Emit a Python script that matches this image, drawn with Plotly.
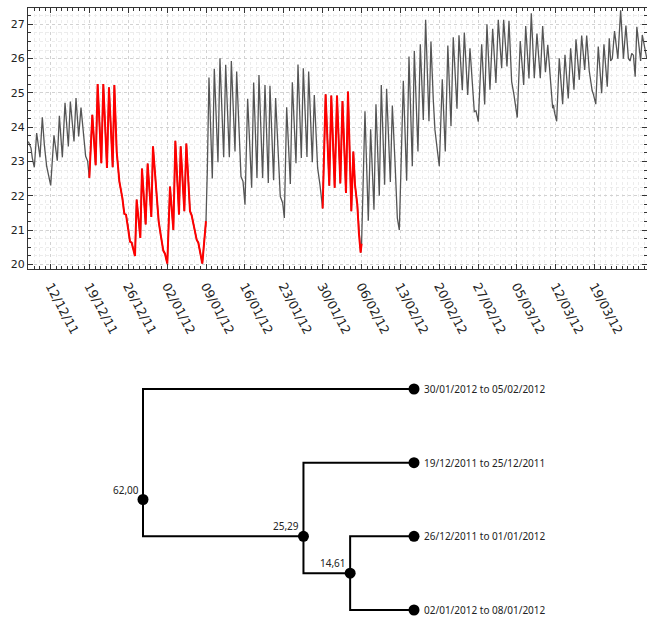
import plotly.graph_objects as go
from datetime import datetime, timedelta

# ---------------- data: temperature series (days after 12/12/2011 00:00, value) -------------
base_date = "2011-12-12"
day_offsets = [
    -4.03, -3.55, -3.31, -2.95, -2.53, -2.23, -1.93, -1.51, -1.15, -0.73, -0.31, 0.0,
    0.59, 1.19, 1.56, 2.10, 2.58, 3.18, 3.54, 4.20, 4.56, 5.04, 5.46, 5.88, 6.30, 6.66, 6.96,
    7.50, 8.10, 8.46, 9.12, 9.48, 10.14, 10.50, 11.17, 11.47, 11.89, 12.37, 12.91, 13.27,
    13.57, 13.99, 14.29, 14.59, 14.89, 15.19, 15.49, 16.15, 16.45, 17.11, 17.47, 18.13,
    18.43, 19.09, 19.45, 19.81, 20.29, 20.59, 21.01, 21.50, 21.80, 22.10, 22.46, 23.12,
    23.42, 24.08, 24.44, 25.10, 25.40, 25.82, 26.30, 26.60, 27.02, 27.32, 27.98,
    28.22, 28.52, 29.12, 29.48, 30.14, 30.50, 31.17, 31.53, 32.19, 32.55, 33.21, 33.51,
    34.05, 34.29, 34.65, 35.01, 35.49, 36.21, 36.57, 37.17, 37.53, 38.19, 38.61, 39.21,
    39.51, 40.17, 40.53, 41.01, 41.37, 41.80, 42.10, 42.52, 43.18, 43.54, 44.20, 44.56,
    45.16, 45.52, 46.18, 46.48, 47.14, 47.50, 48.10, 48.52, 49.00,
    49.54, 50.20, 50.56, 51.17, 51.59, 52.19, 52.58, 53.21, 53.57, 54.17, 54.53, 54.83,
    55.25, 55.55, 55.85, 56.02,
    56.63, 57.23, 57.65, 58.25, 58.61, 59.21, 59.57, 60.17, 60.53, 61.20, 61.56, 62.04,
    62.46, 62.82, 63.54, 64.14, 64.56, 65.16, 65.52, 66.18, 66.60, 67.14, 67.56, 68.16,
    68.52, 68.94, 69.24, 69.66, 70.02, 70.56, 71.10, 71.56, 72.13, 72.54, 73.21, 73.57,
    74.17, 74.53, 75.14, 75.55, 76.09, 76.33, 76.63, 77.05, 77.66, 78.20, 78.61, 79.15,
    79.64, 80.23, 80.65, 81.26, 81.62, 82.22, 82.58, 83.06, 83.48, 83.78, 84.07, 84.61,
    85.23, 85.59, 86.18, 86.60, 87.14, 87.62, 88.22, 88.65, 89.15, 89.57, 90.27, 90.45,
    90.60, 90.76, 91.17, 91.64, 92.25, 92.67, 93.26, 93.69, 94.29, 94.65, 95.25, 95.68,
    96.22, 96.58, 97.05, 97.35, 97.57, 97.81, 98.22, 98.67, 99.28, 99.69, 100.29, 100.65,
    100.90, 101.20, 101.60, 102.20, 102.70, 103.20, 103.65, 104.10, 104.40, 104.70, 105.00,
    105.32, 105.62, 106.30, 106.60, 107.40,
]
temperatures = [
    23.58, 23.39, 23.10, 22.83, 23.83, 23.49, 23.12, 24.29, 23.49, 22.86, 22.57, 22.30,
    23.76, 23.02, 24.33, 23.12, 24.71, 23.44, 24.75, 23.58, 24.85, 23.73, 24.57, 23.88, 23.15, 23.01, 22.52,
    24.36, 22.89, 25.26, 22.95, 25.26, 22.81, 25.16, 22.83, 25.23, 23.29, 22.42, 21.94, 21.47,
    21.45, 21.06, 20.66, 20.63, 20.43, 20.24, 21.89, 20.77, 22.79, 21.16, 22.94, 21.38,
    23.44, 21.83, 21.26, 20.87, 20.40, 20.31, 20.02, 22.27, 21.45, 21.00, 23.60, 21.45,
    23.44, 21.55, 23.52, 21.55, 21.43, 21.06, 20.72, 20.63, 20.33, 20.02, 21.26,
    22.71, 25.45, 22.50, 25.70, 22.98, 26.01, 23.12, 25.82, 23.12, 25.93, 23.29, 25.62,
    23.29, 22.56, 22.42, 21.74, 24.83, 22.23, 25.30, 22.52, 25.52, 22.52, 25.23, 22.37,
    25.21, 22.45, 24.85, 23.20, 21.98, 21.79, 21.35, 24.58, 22.34, 25.31, 22.95, 25.83,
    23.10, 25.72, 23.13, 25.62, 22.98, 24.94, 22.81, 22.32, 21.63,
    24.96, 22.29, 24.92, 22.23, 24.92, 22.36, 24.76, 22.08, 25.04, 21.55, 23.29, 22.32,
    21.74, 20.87, 20.34, 20.60,
    24.46, 21.27, 23.94, 21.59, 24.67, 22.00, 25.23, 22.32, 25.12, 22.40, 24.63, 23.00,
    21.35, 21.00, 25.35, 22.44, 26.06, 22.86, 26.22, 23.29, 26.42, 24.21, 27.13, 24.17,
    26.50, 24.80, 23.92, 23.34, 22.86, 25.40, 23.29, 26.38, 24.03, 26.62, 24.54, 26.68,
    25.08, 26.76, 24.94, 26.30, 24.75, 24.45, 24.48, 24.16, 26.42, 24.66, 27.00, 25.09,
    26.87, 25.29, 27.13, 25.72, 27.13, 25.77, 27.10, 25.33, 24.94, 24.65, 24.28, 26.51,
    25.23, 26.95, 25.42, 27.32, 25.43, 26.73, 25.43, 26.95, 25.60, 26.40, 24.67, 24.55,
    24.65, 24.45, 24.17, 26.01, 24.67, 26.11, 24.84, 26.30, 25.09, 26.56, 25.38, 26.67,
    25.67, 26.67, 25.63, 25.24, 25.06, 24.95, 24.67, 26.35, 24.99, 26.42, 25.18, 26.59,
    25.93, 26.00, 26.80, 26.00, 27.41, 26.00, 26.96, 26.00, 25.93, 26.15, 26.10,
    25.47, 26.93, 25.93, 26.69, 26.01,
]
# highlighted weeks (start day, end day) as offsets from base_date
highlight_periods = [(7, 28), (49, 56)]

x_tick_dates = ["2011-12-12", "2011-12-19", "2011-12-26", "2012-01-02", "2012-01-09",
                "2012-01-16", "2012-01-23", "2012-01-30", "2012-02-06", "2012-02-13",
                "2012-02-20", "2012-02-27", "2012-03-05", "2012-03-12", "2012-03-19"]
x_tick_labels = ["12/12/11", "19/12/11", "26/12/11", "02/01/12", "09/01/12", "16/01/12",
                 "23/01/12", "30/01/12", "06/02/12", "13/02/12", "20/02/12", "27/02/12",
                 "05/03/12", "12/03/12", "19/03/12"]
y_ticks = [20, 21, 22, 23, 24, 25, 26, 27]

# ---------------- data: dendrogram -------------
leaf_labels = ["30/01/2012 to 05/02/2012", "19/12/2011 to 25/12/2011",
               "26/12/2011 to 01/01/2012", "02/01/2012 to 08/01/2012"]
# merges: (child a, child b, height); children < 4 are leaves, >= 4 are earlier merges
merges = [(2, 3, 14.61), (1, 4, 25.29), (0, 5, 62.00)]
merge_labels = ["14,61", "25,29", "62,00"]

# ---------------- build figure -------------
t0 = datetime.fromisoformat(base_date)
dates = [t0 + timedelta(days=d) for d in day_offsets]

fig = go.Figure()
fig.add_trace(go.Scatter(x=dates, y=temperatures, mode="lines",
                         line=dict(color="#555555", width=1.3), xaxis="x", yaxis="y",
                         showlegend=False, hoverinfo="skip"))
for (s, e) in highlight_periods:
    xs = [dt for dt, d in zip(dates, day_offsets) if s - 0.1 <= d <= e + 0.1]
    ys = [v for v, d in zip(temperatures, day_offsets) if s - 0.1 <= d <= e + 0.1]
    fig.add_trace(go.Scatter(x=xs, y=ys, mode="lines", line=dict(color="#ff0000", width=2),
                             xaxis="x", yaxis="y", showlegend=False, hoverinfo="skip"))

# dendrogram geometry
n_leaves = len(leaf_labels)
node_h = {i: 0.0 for i in range(n_leaves)}
node_y = {i: float(i) for i in range(n_leaves)}
node_members = {i: [i] for i in range(n_leaves)}
lx, ly = [], []
dot_x, dot_y = [], []
for k, (a, b, h) in enumerate(merges):
    nid = n_leaves + k
    node_members[nid] = node_members[a] + node_members[b]
    node_h[nid] = h
    node_y[nid] = sum(node_members[nid]) / len(node_members[nid])
    lx += [node_h[a], h, h, node_h[b], None]
    ly += [node_y[a], node_y[a], node_y[b], node_y[b], None]
    dot_x.append(h)
    dot_y.append(node_y[nid])

fig.add_trace(go.Scatter(x=lx, y=ly, mode="lines", line=dict(color="black", width=2),
                         xaxis="x2", yaxis="y2", showlegend=False, hoverinfo="skip"))
fig.add_trace(go.Scatter(x=dot_x, y=dot_y, mode="markers",
                         marker=dict(color="black", size=11),
                         xaxis="x2", yaxis="y2", showlegend=False, hoverinfo="skip"))
fig.add_trace(go.Scatter(x=[0.0] * n_leaves, y=[node_y[i] for i in range(n_leaves)],
                         mode="markers", marker=dict(color="black", size=11),
                         xaxis="x2", yaxis="y2", showlegend=False, hoverinfo="skip"))

annotations = []
for hx, hy, txt in zip(dot_x, dot_y, merge_labels):
    annotations.append(dict(x=hx, y=hy, xref="x2", yref="y2", text=txt, showarrow=False,
                            xanchor="right", yanchor="bottom", xshift=-2, yshift=1,
                            font=dict(family="Noto Sans", size=10, color="#222")))
for i, txt in enumerate(leaf_labels):
    annotations.append(dict(x=0.0, y=node_y[i], xref="x2", yref="y2", text=txt,
                            showarrow=False, xanchor="left", yanchor="middle", xshift=8,
                            font=dict(family="Noto Sans", size=10, color="#222")))

W, H = 647, 619
dend_top = 347
fig.update_layout(
    width=W, height=H, margin=dict(l=0, r=0, t=0, b=0),
    paper_bgcolor="white", plot_bgcolor="rgba(0,0,0,0)",
    font=dict(family="DejaVu Sans", size=10, color="#222"),
    annotations=annotations,
    xaxis=dict(domain=[28 / W, 1.0], type="date",
               range=[t0 + timedelta(days=-4.09), t0 + timedelta(days=107.45)],
               tickvals=x_tick_dates, ticktext=x_tick_labels, tickangle=62,
               ticks="inside", ticklen=5, tickcolor="#333",
               showline=True, linecolor="#333", linewidth=1, mirror="ticks",
               showgrid=True, gridcolor="#d2d2d2", griddash="dot", gridwidth=1,
               minor=dict(dtick=86400000, ticks="inside", ticklen=3, tickcolor="#333",
                          showgrid=True, gridcolor="#ececec", griddash="dot"),
               tickfont=dict(size=12.5, color="#222"), zeroline=False, automargin=False,
               ticklabelstandoff=4, anchor="y"),
    yaxis=dict(domain=[(H - 269) / H, (H - 7.5) / H], range=[19.863, 27.49],
               tickvals=y_ticks, ticks="inside", ticklen=5, tickcolor="#333",
               showline=True, linecolor="#333", linewidth=1, mirror="ticks",
               showgrid=True, gridcolor="#d2d2d2", griddash="dot",
               minor=dict(dtick=0.25, ticks="inside", ticklen=3, tickcolor="#333",
                          showgrid=True, gridcolor="#ececec", griddash="dot"),
               tickfont=dict(size=11, color="#222"), zeroline=False, automargin=False,
               anchor="x"),
    xaxis2=dict(domain=[0, 1], range=[414 / 4.371, (414 - W) / 4.371], visible=False,
                anchor="y2"),
    yaxis2=dict(domain=[0, (H - dend_top) / H],
                range=[(H - 389) / 73.67, (dend_top - 389) / 73.67], visible=False,
                anchor="x2"),
)

fig.write_html("out.html", config={"displayModeBar": False},
               post_script="document.body.style.margin='0';")
